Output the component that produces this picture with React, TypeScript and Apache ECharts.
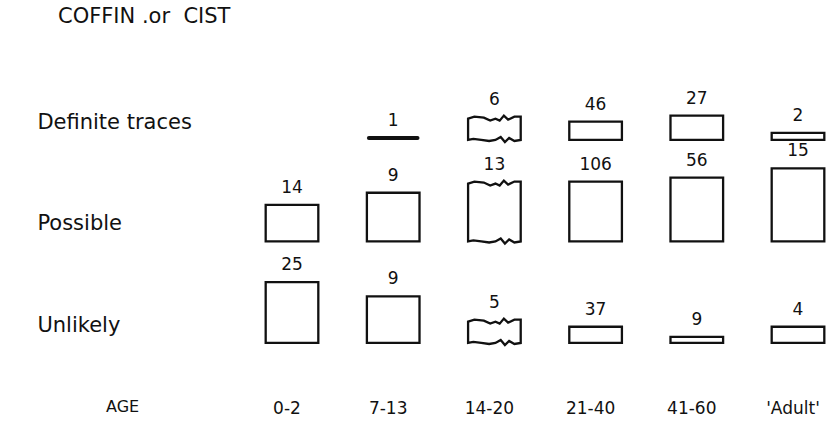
import React, { useEffect, useRef } from 'react';
import * as echarts from 'echarts';

// Age groups (x categories) and evidence rows
const ageGroups = ['0-2', '7-13', '14-20', '21-40', '41-60', "'Adult'"];
const rowNames = ['Definite traces', 'Possible', 'Unlikely'];
const rowLabelValues = [218, 118, 18];
const rowBaseValues = [200, 100, 0];

// Counts shown above each box
const definiteCounts = [null, 1, 6, 46, 27, 2];
const possibleCounts = [14, 9, 13, 106, 56, 15];
const unlikelyCounts = [25, 9, 5, 37, 9, 4];

// Box heights (proportion within age group, %)
const definiteHeights = [null, 2, 23, 18, 24, 7];
const possibleHeights = [36, 48, 59, 59, 63, 72];
const unlikelyHeights = [60, 46, 23, 16, 6, 16];

// Age groups drawn with wavy (uncertain) edges
const wavyGroups = ['14-20'];

const INK = '#111';
const FONT = '"DejaVu Sans", "Liberation Sans", Arial, sans-serif';

function buildData() {
  const rows = [
    { counts: definiteCounts, heights: definiteHeights },
    { counts: possibleCounts, heights: possibleHeights },
    { counts: unlikelyCounts, heights: unlikelyHeights },
  ];
  const out: any[] = [];
  rows.forEach((r, ri) => {
    ageGroups.forEach((g, gi) => {
      const c = r.counts[gi];
      const h = r.heights[gi];
      if (c == null || h == null) return;
      out.push([gi, rowBaseValues[ri], h, c, wavyGroups.includes(g) ? 1 : 0]);
    });
  });
  return out;
}

function wavyPoints(x0: number, x1: number, yTop: number, yBot: number) {
  const w = x1 - x0;
  const top = [
    [0, 2], [0.12, 0], [0.3, 1], [0.42, 4], [0.52, 2], [0.6, 4], [0.68, -1], [0.76, 3], [0.88, 0], [1, 0],
  ];
  const bot = [
    [1, 0], [0.88, 1], [0.78, -2], [0.7, 2], [0.62, -3], [0.52, 0], [0.4, 1], [0.25, 0], [0.1, -1], [0, 0],
  ];
  const pts: number[][] = [];
  top.forEach(([f, d]) => pts.push([x0 + f * w, yTop + d]));
  bot.forEach(([f, d]) => pts.push([x0 + f * w, yBot + d]));
  return pts;
}

export default function App() {
  const ref = useRef<HTMLDivElement>(null);
  useEffect(() => {
    if (!ref.current) return;
    const chart = echarts.init(ref.current, null, { renderer: 'svg' });
    const option: any = {
      animation: false,
      backgroundColor: '#fff',
      title: {
        text: 'COFFIN .or  CIST',
        left: 53,
        top: 0,
        textStyle: { fontFamily: FONT, fontSize: 21, fontWeight: 'normal', color: INK },
      },
      grid: {
        left: 241.4,
        width: 607.2,
        top: 20.2,
        height: 406,
        containLabel: false,
        outerBoundsMode: 'none',
      },
      xAxis: {
        type: 'category',
        data: ageGroups,
        axisLine: { show: false },
        axisTick: { show: false },
        splitLine: { show: false },
        axisLabel: {
          margin: -27,
          fontFamily: FONT,
          fontSize: 17,
          color: INK,
          padding: [0, 10, 0, 0],
        },
      },
      yAxis: {
        type: 'value',
        min: -82,
        max: 318,
        interval: 100,
        axisLine: { show: false },
        axisTick: { show: false },
        splitLine: { show: false },
        axisLabel: {
          align: 'left',
          margin: 204,
          fontFamily: FONT,
          fontSize: 21,
          color: INK,
          formatter: (v: number) => {
            const i = rowLabelValues.indexOf(v);
            return i >= 0 ? rowNames[i] : '';
          },
        },
      },
      graphic: [
        {
          type: 'text',
          left: 106,
          top: 398,
          style: { text: 'AGE', font: `16px ${FONT}`, fill: INK },
        },
      ],
      series: [
        {
          type: 'custom',
          clip: false,
          data: buildData(),
          renderItem: (params: any, api: any) => {
            const xi = api.value(0);
            const base = api.value(1);
            const h = api.value(2);
            const count = api.value(3);
            const wavy = api.value(4);
            const [cx, by] = api.coord([xi, base]);
            const hp = api.size([0, h])[1];
            const bw = api.size([1, 0])[0] * 0.52;
            const x0 = cx - bw / 2;
            const x1 = cx + bw / 2;
            const yTop = by - hp;
            const children: any[] = [];
            if (wavy) {
              children.push({
                type: 'polygon',
                shape: { points: wavyPoints(x0, x1, yTop, by) },
                style: { fill: 'none', stroke: INK, lineWidth: 2.3 },
              });
            } else if (hp <= 3) {
              children.push({
                type: 'rect',
                shape: { x: x0, y: by - 4, width: bw, height: 4, r: 2 },
                style: { fill: INK },
              });
            } else {
              children.push({
                type: 'rect',
                shape: { x: x0, y: yTop, width: bw, height: hp },
                style: { fill: 'none', stroke: INK, lineWidth: 2.3 },
              });
            }
            children.push({
              type: 'text',
              x: cx,
              y: (hp <= 3 ? by - 2 : yTop) - 18,
              style: {
                text: String(count),
                font: `17px ${FONT}`,
                fill: INK,
                align: 'center',
                verticalAlign: 'middle',
              },
            });
            return { type: 'group', children };
          },
        },
      ],
    };
    chart.setOption(option);
    return () => chart.dispose();
  }, []);
  return (
    <div
      ref={ref}
      style={{ position: 'fixed', left: 0, top: 0, width: 830, height: 445 }}
    />
  );
}
